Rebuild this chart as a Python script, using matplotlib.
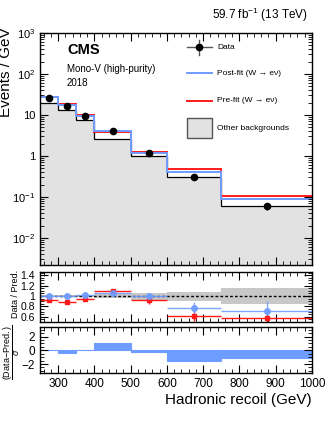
import matplotlib
matplotlib.use('Agg')
import matplotlib.pyplot as plt
from matplotlib.patches import Rectangle
import numpy as np

plt.rcParams['font.family'] = ['Liberation Sans', 'DejaVu Sans']
plt.rcParams['mathtext.fontset'] = 'custom'
plt.rcParams['mathtext.rm'] = 'Liberation Sans'
plt.rcParams['mathtext.it'] = 'Liberation Sans:italic'
plt.rcParams['mathtext.bf'] = 'Liberation Sans:bold'

# Hadronic recoil bins (GeV)
edges = [250, 300, 350, 400, 500, 600, 750, 1000]

# Events / GeV
data = [26.0, 16.3, 9.6, 4.15, 1.18, 0.30, 0.059]
data_err = [1.2, 0.9, 0.6, 0.3, 0.08, 0.03, 0.012]
postfit = [26.8, 17.3, 9.7, 4.1, 1.2, 0.41, 0.089]
prefit = [27.8, 18.5, 10.2, 3.75, 1.29, 0.48, 0.105]
other_bkg = [19.6, 13.2, 7.4, 2.6, 1.0, 0.30, 0.059]

# Ratio panel
ratio_post = [1.00, 1.00, 1.01, 1.06, 0.99, 0.77, 0.72]
ratio_post_err = [0.03, 0.03, 0.03, 0.04, 0.07, 0.11, 0.19]
ratio_pre = [0.93, 0.89, 0.94, 1.09, 0.92, 0.61, 0.57]
ratio_pre_err = [0.03, 0.03, 0.03, 0.04, 0.08, 0.10, 0.14]
band_up = [0.02, 0.02, 0.02, 0.03, 0.05, 0.08, 0.15]
band_dn = [0.02, 0.02, 0.02, 0.03, 0.07, 0.09, 0.16]

# Pull panel
pull = [0.05, -0.4, 0.1, 1.1, -0.2, -1.55, -1.05]

blue = '#6f9cff'
red = '#ff1a1a'

edges = np.array(edges)
centers = 0.5 * (edges[1:] + edges[:-1])
half = 0.5 * np.diff(edges)

fig = plt.figure(figsize=(3.32, 4.30), dpi=100)
ax = fig.add_axes([0.1205, 0.3837, 0.819, 0.5395])
axr = fig.add_axes([0.1205, 0.2512, 0.819, 0.1162], sharex=ax)
axp = fig.add_axes([0.1205, 0.1326, 0.819, 0.1069], sharex=ax)

# Main panel
ax.stairs(other_bkg, edges, fill=True, color='#e2e2e2', baseline=1e-4)
ax.stairs(other_bkg, edges, color='k', lw=0.9, baseline=None)
ax.stairs(prefit, edges, color=red, lw=1.4, baseline=None)
ax.stairs(postfit, edges, color=blue, lw=1.4, baseline=None)
ax.errorbar(centers, data, yerr=data_err, fmt='o', color='k', ms=4.5, lw=0.9)
ax.set_yscale('log')
ax.set_ylim(2.2e-3, 1e3)
ax.set_xlim(250, 1000)
ax.set_yticks([1e-2, 1e-1, 1, 10, 1e2, 1e3])
ax.set_yticklabels([r'$10^{-2}$', r'$10^{-1}$', '1', '10', r'$10^{2}$', r'$10^{3}$'])
ax.set_ylabel('Events / GeV', fontsize=11, loc='top')
ax.yaxis.set_label_coords(-0.10, 1.025)

ax.text(0.099, 0.927, 'CMS', transform=ax.transAxes, fontsize=10.5,
        fontweight='bold', va='center')
ax.text(0.099, 0.846, 'Mono-V (high-purity)', transform=ax.transAxes,
        fontsize=7, va='center')
ax.text(0.099, 0.786, '2018', transform=ax.transAxes, fontsize=7, va='center')
fig.text(0.928, 0.965, r'59.7 fb$^{-1}$ (13 TeV)', fontsize=8.5, ha='right',
         va='center')

# Legend (drawn by hand)
hx0, hx1, tx = 0.540, 0.632, 0.651
rows = [0.938, 0.826, 0.708, 0.589]
tr = ax.transAxes
ax.plot([hx0, hx1], [rows[0]] * 2, color='#555555', lw=1, transform=tr)
ax.plot([0.586, 0.586], [rows[0] - 0.032, rows[0] + 0.032], color='#555555',
        lw=1, transform=tr)
ax.plot([0.586], [rows[0]], 'o', color='k', ms=4.5, transform=tr)
ax.plot([hx0, hx1], [rows[1]] * 2, color=blue, lw=1.4, transform=tr)
ax.plot([hx0, hx1], [rows[2]] * 2, color=red, lw=1.4, transform=tr)
ax.add_patch(Rectangle((hx0, rows[3] - 0.043), hx1 - hx0, 0.086,
                       transform=tr, facecolor='#e2e2e2', edgecolor='#555555',
                       lw=1))
labels = ['Data', 'Post-fit (W \u2192 e\u03bd)', 'Pre-fit (W \u2192 e\u03bd)',
          'Other backgrounds']
for y, lab in zip(rows, labels):
    ax.text(tx, y, lab, transform=tr, fontsize=6, va='center')

# Ratio panel
axr.stairs(np.array(band_up) + 1, edges, baseline=1 - np.array(band_dn),
           fill=True, color='#c8c8c8')
axr.axhline(1, color='k', ls=(0, (2, 1.5)), lw=1)
axr.errorbar(centers, ratio_pre, xerr=half, yerr=ratio_pre_err, fmt='s',
             color=red, ms=3, lw=1)
axr.errorbar(centers, ratio_post, xerr=half, yerr=ratio_post_err, fmt='o',
             color=blue, ms=4, lw=1, alpha=0.9)
axr.set_ylim(0.5, 1.46)
axr.set_yticks([0.6, 0.8, 1, 1.2, 1.4])
axr.set_yticklabels(['0.6', '0.8', '1', '1.2', '1.4'])
axr.set_ylabel('Data / Pred.', fontsize=6.5)
axr.yaxis.set_label_coords(-0.075, 0.56)

# Pull panel
axp.bar(edges[:-1], pull, width=np.diff(edges), align='edge', color=blue,
        edgecolor=blue, lw=0.8)
axp.set_ylim(-3.3, 3.4)
axp.set_yticks([-2, 0, 2])
axp.set_yticklabels(['\u22122', '0', '2'])
axp.set_ylabel(r'$\dfrac{\mathrm{(Data\!-\!Pred.)}}{\sigma}$', fontsize=6.5)
axp.yaxis.set_label_coords(-0.068, 0.45)
axp.set_xlabel('Hadronic recoil (GeV)', fontsize=11, loc='right', labelpad=2)

for a in (ax, axr, axp):
    a.tick_params(which='both', direction='in', top=True, right=True,
                  labelsize=8)
    a.tick_params(which='major', length=6, width=0.8)
    a.tick_params(which='minor', length=3, width=0.6)
    a.set_xticks(np.arange(300, 1001, 100))
    a.set_xticks(np.arange(260, 1000, 20), minor=True)
    for s in a.spines.values():
        s.set_linewidth(1.0)
for a in (ax, axr):
    plt.setp(a.get_xticklabels(), visible=False)
axr.tick_params(labelsize=7.5)
axp.tick_params(labelsize=8.5)
axr.set_yticks(np.arange(0.5, 1.46, 0.05), minor=True)
axp.set_yticks(np.arange(-3, 3.4, 0.5), minor=True)

fig.savefig('out.png', dpi=100)
